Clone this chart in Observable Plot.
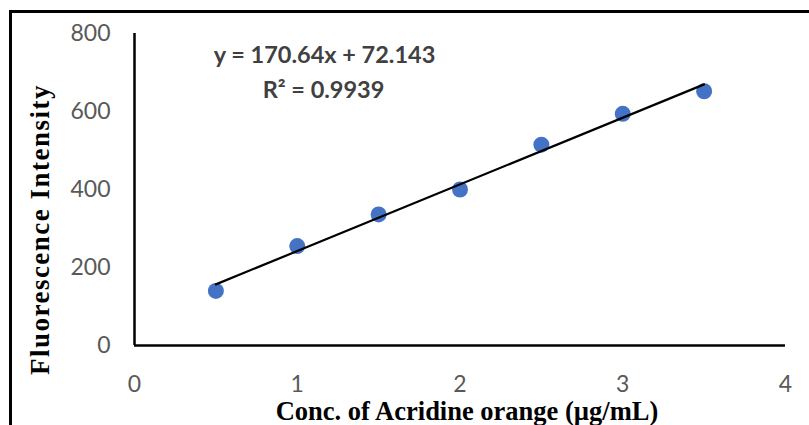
<!DOCTYPE html>
<html>
<head>
<meta charset="utf-8">
<script src="https://cdn.jsdelivr.net/npm/d3@7"></script>
<script src="https://cdn.jsdelivr.net/npm/@observablehq/plot@0.6"></script>
<style>
  html, body { margin: 0; padding: 0; background: #fff; }
  #wrap { position: relative; width: 809px; height: 425px; overflow: hidden; }
  #border { position: absolute; left: 9px; top: 10px; width: 820px; height: 440px;
            border-left: 3px solid #000; border-top: 3px solid #000; pointer-events: none; }
  #chart { position: absolute; left: 0; top: 0; }
</style>
</head>
<body>
<div id="wrap"><div id="chart"></div><div id="border"></div></div>
<script>
const conc = [0.5, 1, 1.5, 2, 2.5, 3, 3.5];
const intensity = [140, 255, 336, 400, 515, 594, 652];
const xTicks = [0, 1, 2, 3, 4];
const yTicks = [0, 200, 400, 600, 800];
const equationText = ["y = 170.64x + 72.143", "R² = 0.9939"];
const xTitle = "Conc. of Acridine orange (µg/mL)";
const yTitle = "Fluorescence Intensity";

const data = conc.map((c, i) => ({conc: c, intensity: intensity[i]}));

const chart = Plot.plot({
  width: 809,
  height: 425,
  marginLeft: 134,
  marginRight: 24,
  marginTop: 33,
  marginBottom: 80,
  x: {domain: [0, 4]},
  y: {domain: [0, 800]},
  marks: [
    Plot.axisX({ticks: xTicks, tickFormat: d => String(d), tickSize: 0, tickPadding: 30, label: null,
      fontSize: 23, fontFamily: "Lato", fill: "#595959"}),
    Plot.axisY({ticks: yTicks, tickFormat: d => String(d), tickSize: 0, tickPadding: 24, label: null,
      fontSize: 23, fontFamily: "Lato", fill: "#595959"}),
    Plot.ruleX([0], {stroke: "#000", strokeWidth: 2.5}),
    Plot.ruleY([0], {stroke: "#000", strokeWidth: 2.5}),
    Plot.dot(data, {x: "conc", y: "intensity", r: 8, fill: "#4472C4", stroke: "none"}),
    Plot.linearRegressionY(data, {x: "conc", y: "intensity", ci: 0, stroke: "#000", strokeWidth: 2.2}),
    Plot.text([equationText[0]], {frameAnchor: "top-left", dx: 190, dy: 22, lineAnchor: "middle",
      fontSize: 23.5, fontWeight: "bold", fontFamily: "Lato", fill: "#404040", textAnchor: "middle"}),
    Plot.text([equationText[1]], {frameAnchor: "top-left", dx: 189, dy: 57, lineAnchor: "middle",
      fontSize: 23.5, fontWeight: "bold", fontFamily: "Lato", fill: "#404040", textAnchor: "middle"}),
    Plot.text([xTitle], {frameAnchor: "bottom", dx: 7, dy: 66, lineAnchor: "middle", textAnchor: "middle",
      fontSize: 26.5, fontWeight: "bold", fontFamily: "Liberation Serif", fill: "#000"}),
    Plot.text([yTitle], {frameAnchor: "left", dx: -94, dy: 40, rotate: -90, textAnchor: "middle", lineAnchor: "middle",
      fontSize: 27, fontWeight: "bold", fontFamily: "Liberation Serif", fill: "#000"})
  ]
});
chart.querySelectorAll("text").forEach(t => {
  if (t.textContent === yTitle) t.style.letterSpacing = "1.5px";
});
document.getElementById("chart").appendChild(chart);
</script>
</body>
</html>
